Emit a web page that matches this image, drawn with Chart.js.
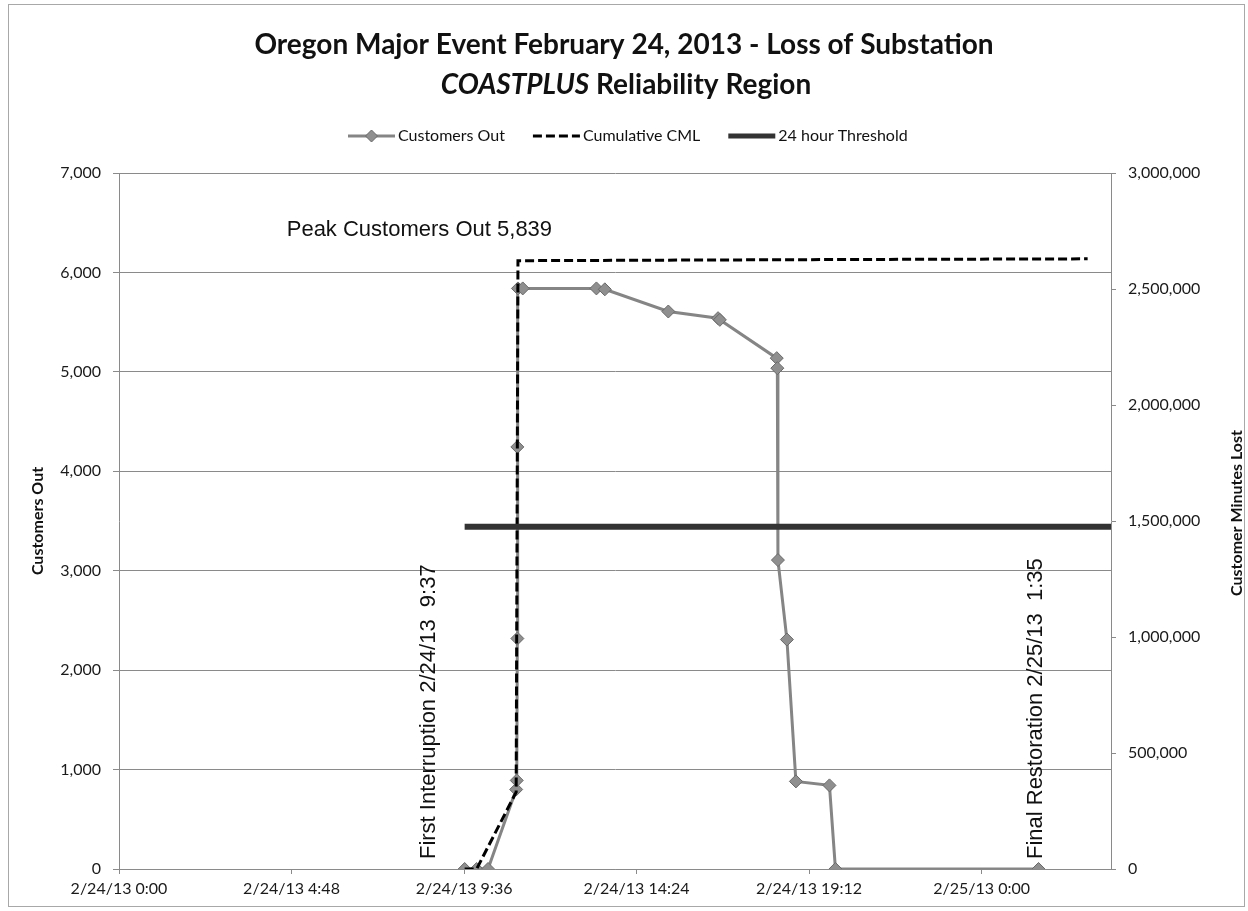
<!DOCTYPE html>
<html>
<head>
<meta charset="utf-8">
<title>Oregon Major Event February 24, 2013 - Loss of Substation</title>
<script src="https://cdn.jsdelivr.net/npm/chart.js@4.4.0/dist/chart.umd.min.js"></script>
<style>
  html, body { margin: 0; padding: 0; background: #fff; }
  #wrap { width: 1248px; height: 911px; }
</style>
</head>
<body>
<div id="wrap"><canvas id="eventChart" width="1248" height="911"></canvas></div>
<script>
// Customers out (left axis)
const outTimes = [
  '2/24/13 9:37', '2/24/13 9:57', '2/24/13 10:16', '2/24/13 11:03', '2/24/13 11:04',
  '2/24/13 11:05', '2/24/13 11:05', '2/24/13 11:06', '2/24/13 11:14', '2/24/13 13:17',
  '2/24/13 13:31', '2/24/13 15:17', '2/24/13 16:40', '2/24/13 16:43', '2/24/13 18:18',
  '2/24/13 18:19', '2/24/13 18:20', '2/24/13 18:35', '2/24/13 18:50', '2/24/13 19:46',
  '2/24/13 19:56', '2/25/13 1:35'
];
const outValues = [
  0, 0, 0, 800, 891,
  2318, 4245, 5839, 5839, 5839,
  5830, 5607, 5540, 5523, 5138,
  5037, 3107, 2308, 881, 841,
  0, 0
];

// Cumulative customer minutes lost (right axis)
const cmlTimes = ['2/24/13 9:37', '2/24/13 9:57', '2/24/13 11:03', '2/24/13 11:06', '2/24/13 19:56', '2/25/13 2:57'];
const cmlValues = [0, 0, 331000, 2622000, 2627000, 2630000];

// 24 hour threshold (right axis)
const thresholdTimes = ['2/24/13 9:37', '2/25/13 3:36'];
const thresholdValues = [1475000, 1475000];

// x axis tick labels and range
const xTickTimes = ['2/24/13 0:00', '2/24/13 4:48', '2/24/13 9:36', '2/24/13 14:24', '2/24/13 19:12', '2/25/13 0:00'];
const xStart = '2/24/13 0:00';
const xEnd = '2/25/13 3:36';

const FONT_UI = 'Lato, "Open Sans", sans-serif';
const FONT_NOTE = '"Liberation Sans", Arial, sans-serif';

// "2/24/13 9:37" -> hours after 2/24/13 0:00
function toHours(s) {
  const parts = s.split(' ');
  const d = parts[0].split('/');
  const t = parts[1].split(':');
  return (parseInt(d[1], 10) - 24) * 24 + parseInt(t[0], 10) + parseInt(t[1], 10) / 60;
}

function toPoints(times, values) {
  return times.map(function(t, i) { return { x: toHours(t), y: values[i] }; });
}

const notes = [
  { text: 'Peak Customers Out 5,839', time: '2/24/13 4:40', value: 6430, rotate: false },
  { text: 'First Interruption 2/24/13  9:37', time: '2/24/13 8:38', value: 100, rotate: true },
  { text: 'Final Restoration 2/25/13  1:35', time: '2/25/13 1:31', value: 100, rotate: true }
];

const chartDecor = {
  id: 'chartDecor',
  beforeDraw(chart) {
    const ctx = chart.ctx;
    ctx.save();
    ctx.fillStyle = '#fff';
    ctx.fillRect(0, 0, chart.width, chart.height);
    ctx.strokeStyle = '#a8a8a8';
    ctx.lineWidth = 1;
    ctx.strokeRect(8.5, 4.5, 1236, 902);
    ctx.restore();
  },
  afterDraw(chart) {
    const ctx = chart.ctx;
    const area = chart.chartArea;
    const xs = chart.scales.x;
    const ys = chart.scales.y;
    ctx.save();
    ctx.fillStyle = '#111';
    ctx.textBaseline = 'middle';

    // title
    ctx.textAlign = 'center';
    ctx.font = 'bold 28px ' + FONT_UI;
    ctx.fillText('Oregon Major Event February 24, 2013 - Loss of Substation', 624, 45);
    const part1 = 'COASTPLUS';
    const part2 = ' Reliability Region';
    ctx.font = 'italic bold 28px ' + FONT_UI;
    const w1 = ctx.measureText(part1).width;
    ctx.font = 'bold 28px ' + FONT_UI;
    const w2 = ctx.measureText(part2).width;
    let tx = 626 - (w1 + w2) / 2;
    ctx.textAlign = 'left';
    ctx.font = 'italic bold 28px ' + FONT_UI;
    ctx.fillText(part1, tx, 85);
    ctx.font = 'bold 28px ' + FONT_UI;
    ctx.fillText(part2, tx + w1, 85);

    // legend
    ctx.font = '16px ' + FONT_UI;
    const ly = 136;
    let lx = 348;
    const items = ['Customers Out', 'Cumulative CML', '24 hour Threshold'];
    items.forEach(function(label, i) {
      ctx.save();
      if (i === 0) {
        ctx.strokeStyle = '#858585';
        ctx.lineWidth = 3;
        ctx.beginPath(); ctx.moveTo(lx, ly); ctx.lineTo(lx + 47, ly); ctx.stroke();
        ctx.fillStyle = '#8f8f8f';
        ctx.strokeStyle = '#6a6a6a';
        ctx.lineWidth = 1;
        ctx.beginPath();
        ctx.moveTo(lx + 23.5, ly - 6); ctx.lineTo(lx + 29.5, ly);
        ctx.lineTo(lx + 23.5, ly + 6); ctx.lineTo(lx + 17.5, ly);
        ctx.closePath(); ctx.fill(); ctx.stroke();
      } else if (i === 1) {
        ctx.strokeStyle = '#000';
        ctx.lineWidth = 3;
        ctx.setLineDash([9, 4]);
        ctx.beginPath(); ctx.moveTo(lx, ly); ctx.lineTo(lx + 47, ly); ctx.stroke();
      } else {
        ctx.strokeStyle = '#333';
        ctx.lineWidth = 5;
        ctx.beginPath(); ctx.moveTo(lx, ly); ctx.lineTo(lx + 47, ly); ctx.stroke();
      }
      ctx.restore();
      ctx.fillText(label, lx + 50, ly);
      lx += 50 + ctx.measureText(label).width + 28;
    });

    // axis titles
    const midY = (area.top + area.bottom) / 2;
    ctx.font = 'bold 16px ' + FONT_UI;
    ctx.textAlign = 'center';
    ctx.save();
    ctx.translate(38, midY);
    ctx.rotate(-Math.PI / 2);
    ctx.fillText('Customers Out', 0, 0);
    ctx.restore();
    ctx.save();
    ctx.translate(1237, midY - 8);
    ctx.rotate(-Math.PI / 2);
    ctx.fillText('Customer Minutes Lost', 0, 0);
    ctx.restore();

    // notes
    ctx.font = '22px ' + FONT_NOTE;
    ctx.textAlign = 'left';
    notes.forEach(function(n) {
      const px = xs.getPixelForValue(toHours(n.time));
      const py = ys.getPixelForValue(n.value);
      if (n.rotate) {
        ctx.save();
        ctx.translate(px, py);
        ctx.rotate(-Math.PI / 2);
        ctx.fillText(n.text, 0, 0);
        ctx.restore();
      } else {
        ctx.fillText(n.text, px, py);
      }
    });
    ctx.restore();
  }
};

const tickFont = { family: FONT_UI, size: 16 };

new Chart(document.getElementById('eventChart'), {
  type: 'line',
  data: {
    datasets: [{
      label: 'Customers Out',
      data: toPoints(outTimes, outValues),
      yAxisID: 'y',
      borderColor: '#858585',
      borderWidth: 3,
      pointStyle: 'rectRot',
      pointRadius: 6.5,
      pointBackgroundColor: '#8f8f8f',
      pointBorderColor: '#6a6a6a',
      pointBorderWidth: 1,
      order: 2
    }, {
      label: 'Cumulative CML',
      data: toPoints(cmlTimes, cmlValues),
      yAxisID: 'y2',
      borderColor: '#000',
      borderWidth: 3,
      borderDash: [9, 4],
      pointRadius: 0,
      order: 1
    }, {
      label: '24 hour Threshold',
      data: toPoints(thresholdTimes, thresholdValues),
      yAxisID: 'y2',
      borderColor: '#333',
      borderWidth: 6,
      pointRadius: 0,
      order: 0
    }]
  },
  options: {
    responsive: false,
    animation: false,
    layout: { padding: { top: 173, left: 0, right: 0, bottom: 0 } },
    plugins: {
      legend: { display: false },
      title: { display: false },
      tooltip: { enabled: false }
    },
    scales: {
      x: {
        type: 'linear',
        min: toHours(xStart),
        max: toHours(xEnd),
        afterFit: function(scale) { scale.height = 42; },
        afterBuildTicks: function(scale) {
          scale.ticks = xTickTimes.map(function(t) { return { value: toHours(t) }; });
        },
        ticks: {
          autoSkip: false,
          maxRotation: 0,
          padding: 5,
          color: '#1a1a1a',
          font: tickFont,
          callback: function(v, i) { return xTickTimes[i]; }
        },
        grid: { drawOnChartArea: false, color: '#8a8a8a', tickLength: 5 },
        border: { color: '#8a8a8a' }
      },
      y: {
        position: 'left',
        min: 0,
        max: 7000,
        afterFit: function(scale) { scale.width = 119; },
        ticks: {
          stepSize: 1000,
          padding: 12,
          color: '#1a1a1a',
          font: tickFont,
          callback: function(v) { return v.toLocaleString('en-US'); }
        },
        grid: { color: '#8a8a8a', tickLength: 6 },
        border: { color: '#8a8a8a' }
      },
      y2: {
        position: 'right',
        min: 0,
        max: 3000000,
        afterFit: function(scale) { scale.width = 137; },
        ticks: {
          stepSize: 500000,
          padding: 12,
          color: '#1a1a1a',
          font: tickFont,
          callback: function(v) { return v.toLocaleString('en-US'); }
        },
        grid: { drawOnChartArea: false, color: '#8a8a8a', tickLength: 5 },
        border: { color: '#8a8a8a' }
      }
    }
  },
  plugins: [chartDecor]
});
</script>
</body>
</html>
